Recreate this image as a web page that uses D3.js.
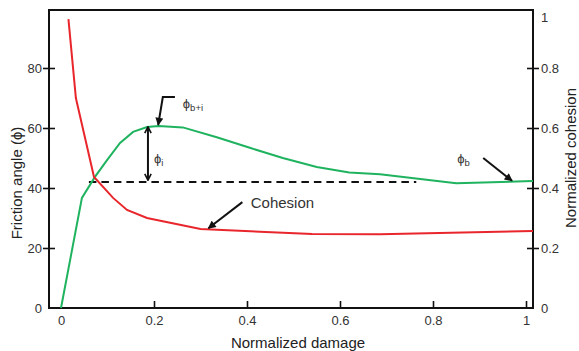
<!DOCTYPE html>
<html>
<head>
<meta charset="utf-8">
<script src="https://cdn.jsdelivr.net/npm/d3@7"></script>
<style>
body { margin: 0; background: #fff; }
svg { font-family: "Liberation Sans", Arial, sans-serif; }
.tick text { fill: #333; font-size: 13px; }
</style>
</head>
<body>
<script>
// friction angle curve (left axis)
var damageF = [0, 0.045, 0.073, 0.099, 0.127, 0.155, 0.185, 0.21, 0.262, 0.335, 0.406, 0.477, 0.55, 0.62, 0.686, 0.85, 1.015];
var friction = [0, 36.7, 43.7, 49.3, 55, 58.7, 60.3, 60.7, 60.2, 56.9, 53.4, 50, 47, 45.2, 44.6, 41.6, 42.3];
// normalized cohesion curve (right axis)
var damageC = [0.016, 0.032, 0.071, 0.112, 0.142, 0.185, 0.30, 0.54, 0.686, 1.015];
var cohesion = [0.963, 0.70, 0.437, 0.367, 0.327, 0.30, 0.263, 0.247, 0.246, 0.257];
// basic friction level (dashed)
var phiB = 42, dashFrom = 0.06, dashTo = 0.764;

var xTicks = [0, 0.2, 0.4, 0.6, 0.8, 1];
var yLeftTicks = [0, 20, 40, 60, 80];
var yRightTicks = [0, 0.2, 0.4, 0.6, 0.8, 1];

var W = 579, H = 351;
var frame = {left: 49, right: 533, top: 10, bottom: 308};

var x = d3.scaleLinear().domain([0, 1]).range([61, 526]);
var yL = d3.scaleLinear().domain([0, 100]).range([308, 8]);
var yR = d3.scaleLinear().domain([0, 1]).range([308, 8]);

var fmt = function (d) { return d3.format("")(d); };//plain numbers, 1 not 1.0

var svg = d3.select("body").append("svg")
    .attr("width", W).attr("height", H);

var defs = svg.append("defs");
defs.append("marker")//filled arrow head
    .attr("id", "head").attr("viewBox", "0 0 10 10")
    .attr("refX", 9).attr("refY", 5)
    .attr("markerUnits", "userSpaceOnUse")
    .attr("markerWidth", 9).attr("markerHeight", 8)
    .attr("orient", "auto")
    .append("path").attr("d", "M0,0 L10,5 L0,10 z").attr("fill", "#111");
defs.append("marker")//open chevron for the double arrow
    .attr("id", "chev").attr("viewBox", "0 0 10 10")
    .attr("refX", 9).attr("refY", 5)
    .attr("markerUnits", "userSpaceOnUse")
    .attr("markerWidth", 8).attr("markerHeight", 8)
    .attr("orient", "auto-start-reverse")
    .append("path").attr("d", "M1,1 L9,5 L1,9").attr("fill", "none")
    .attr("stroke", "#111").attr("stroke-width", 2);

// axes
var bottomAxis = d3.axisBottom(x).tickValues(xTicks).tickFormat(fmt)
    .tickSizeInner(-7).tickSizeOuter(0).tickPadding(8);
var gb = svg.append("g").attr("transform", "translate(0," + frame.bottom + ")").call(bottomAxis);
gb.selectAll(".tick").filter(function (d) { return d === 0; }).select("line").remove();

var leftAxis = d3.axisLeft(yL).tickValues(yLeftTicks).tickFormat(fmt)
    .tickSizeInner(12).tickSizeOuter(0).tickPadding(1);
var gl = svg.append("g").attr("transform", "translate(" + (frame.left + 6) + ",0)").call(leftAxis);
gl.selectAll(".tick").filter(function (d) { return d === 0; }).select("line").remove();

var rightAxis = d3.axisRight(yR).tickValues(yRightTicks).tickFormat(fmt)
    .tickSizeInner(12).tickSizeOuter(0).tickPadding(2);
var gr = svg.append("g").attr("transform", "translate(" + (frame.right - 6) + ",0)").call(rightAxis);
gr.selectAll(".tick").filter(function (d) { return d === 0 || d === 1; }).select("line").remove();
gr.selectAll(".tick").filter(function (d) { return d === 1; }).select("text").attr("dy", "1.05em");

[gb, gl, gr].forEach(function (g) {
    g.select(".domain").remove();
    g.selectAll(".tick line").attr("stroke", "#111").attr("stroke-width", 1.6);
    g.selectAll(".tick text").attr("font-family", null).attr("font-size", null);
});

// frame
svg.append("rect")
    .attr("x", frame.left).attr("y", frame.top)
    .attr("width", frame.right - frame.left).attr("height", frame.bottom - frame.top)
    .attr("fill", "none").attr("stroke", "#111").attr("stroke-width", 2);

// dashed basic friction line
svg.append("line")
    .attr("x1", x(dashFrom)).attr("x2", x(dashTo))
    .attr("y1", yL(phiB)).attr("y2", yL(phiB))
    .attr("stroke", "#111").attr("stroke-width", 2)
    .attr("stroke-dasharray", "7.5,5");

// curves
var lineF = d3.line().x(function (d, i) { return x(damageF[i]); }).y(function (d) { return yL(d); });
var lineC = d3.line().x(function (d, i) { return x(damageC[i]); }).y(function (d) { return yR(d); });

svg.append("path").datum(friction)
    .attr("d", lineF).attr("fill", "none")
    .attr("stroke", "#1fb35f").attr("stroke-width", 2);
svg.append("path").datum(cohesion)
    .attr("d", lineC).attr("fill", "none")
    .attr("stroke", "#e8262c").attr("stroke-width", 2);

// annotations
var ann = svg.append("g").attr("stroke", "#111").attr("stroke-width", 2).attr("fill", "none");

// phi_i double arrow between peak and basic level
ann.append("line")
    .attr("x1", x(0.187)).attr("x2", x(0.187))
    .attr("y1", yL(60.4)).attr("y2", yL(42.6))
    .attr("marker-start", "url(#chev)").attr("marker-end", "url(#chev)");

// phi_b+i leader
ann.append("path")
    .attr("d", "M" + x(0.245) + "," + yL(70.3) + "L" + x(0.219) + "," + yL(70.3) +
        "L" + x(0.209) + "," + yL(61))
    .attr("marker-end", "url(#head)");

// cohesion leader
ann.append("line")
    .attr("x1", x(0.39)).attr("y1", yR(0.353))
    .attr("x2", x(0.317)).attr("y2", yR(0.266))
    .attr("marker-end", "url(#head)");

// phi_b leader
ann.append("line")
    .attr("x1", x(0.908)).attr("y1", yL(50))
    .attr("x2", x(0.97)).attr("y2", yL(42.4))
    .attr("marker-end", "url(#head)");

var txt = svg.append("g").attr("fill", "#333");

function phiLabel(px, py, sub) {
    var t = txt.append("text").attr("x", px).attr("y", py).attr("font-size", 13);
    t.append("tspan").text("\u03D5");
    t.append("tspan").attr("font-size", 9.5).attr("dy", 3).text(sub);
}
phiLabel(x(0.262), yL(66.8), "b+i");
phiLabel(x(0.2), yL(48.3), "i");
phiLabel(x(0.852), yL(48.3), "b");

txt.append("text").attr("x", x(0.408)).attr("y", yR(0.333))
    .attr("font-size", 15).text("Cohesion");

// axis titles
svg.append("text").attr("x", 298).attr("y", 348)
    .attr("text-anchor", "middle").attr("font-size", 15).attr("fill", "#222")
    .text("Normalized damage");
svg.append("text").attr("transform", "translate(22,183) rotate(-90)")
    .attr("text-anchor", "middle").attr("font-size", 15).attr("fill", "#222")
    .text("Friction angle (\u03D5)");
svg.append("text").attr("transform", "translate(576,158) rotate(-90)")
    .attr("text-anchor", "middle").attr("font-size", 15).attr("fill", "#222")
    .text("Normalized cohesion");
</script>
</body>
</html>
